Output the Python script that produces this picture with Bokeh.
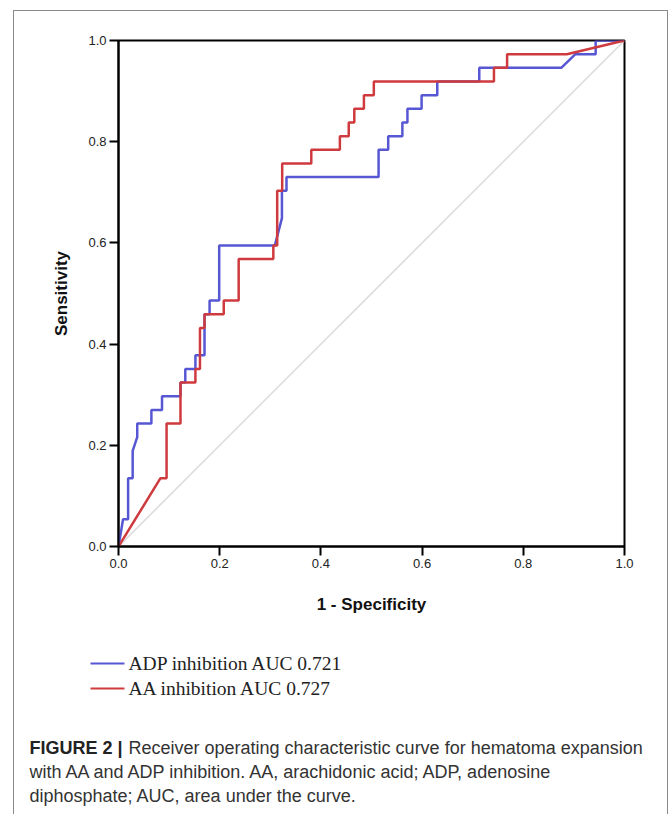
from bokeh.plotting import figure
from bokeh.layouts import column
from bokeh.models import Range1d, FixedTicker, NumeralTickFormatter
from bokeh.core.properties import value
from bokeh.embed import file_html
from bokeh.resources import INLINE

# ---- data ----
adp_fpr = [0, 0.009, 0.019, 0.019, 0.028, 0.028, 0.037, 0.037, 0.065, 0.065, 0.086, 0.086,
           0.1225, 0.1225, 0.132, 0.132, 0.152, 0.152, 0.170, 0.170, 0.180, 0.180, 0.199, 0.199,
           0.309, 0.323, 0.323, 0.332, 0.332, 0.514, 0.514, 0.533, 0.533, 0.561, 0.561, 0.571,
           0.571, 0.599, 0.599, 0.630, 0.630, 0.713, 0.713, 0.875, 0.903, 0.943, 0.943, 1.0]
adp_tpr = [0, 0.054, 0.054, 0.135, 0.135, 0.189, 0.216, 0.243, 0.243, 0.270, 0.270, 0.297,
           0.297, 0.324, 0.324, 0.351, 0.351, 0.378, 0.378, 0.459, 0.459, 0.486, 0.486, 0.595,
           0.595, 0.649, 0.703, 0.703, 0.730, 0.730, 0.784, 0.784, 0.811, 0.811, 0.838, 0.838,
           0.865, 0.865, 0.892, 0.892, 0.919, 0.919, 0.946, 0.946, 0.973, 0.973, 1.0, 1.0]

aa_fpr = [0, 0.083, 0.095, 0.095, 0.1225, 0.1225, 0.152, 0.152, 0.161, 0.161, 0.170, 0.170,
          0.208, 0.208, 0.2375, 0.2375, 0.306, 0.306, 0.3136, 0.3136, 0.3235, 0.3235, 0.381,
          0.381, 0.4375, 0.4375, 0.455, 0.455, 0.466, 0.466, 0.485, 0.485, 0.5046, 0.5046,
          0.742, 0.742, 0.768, 0.768, 0.886, 1.0]
aa_tpr = [0, 0.135, 0.135, 0.243, 0.243, 0.324, 0.324, 0.351, 0.351, 0.432, 0.432, 0.459,
          0.459, 0.486, 0.486, 0.568, 0.568, 0.595, 0.595, 0.703, 0.703, 0.757, 0.757, 0.784,
          0.784, 0.811, 0.811, 0.838, 0.838, 0.865, 0.865, 0.892, 0.892, 0.919, 0.919, 0.946,
          0.946, 0.973, 0.973, 1.0]

ref_x = [0, 1]
ref_y = [0, 1]

ticks = [0, 0.2, 0.4, 0.6, 0.8, 1.0]
legend_labels = ["ADP inhibition AUC 0.721", "AA inhibition AUC 0.727"]
caption_bold = "FIGURE 2 |"
caption_lines = ["Receiver operating characteristic curve for hematoma expansion",
                 "with AA and ADP inhibition. AA, arachidonic acid; ADP, adenosine",
                 "diphosphate; AUC, area under the curve."]

BLUE = "#5757d4"
RED = "#cf3a3e"

# ---- geometry (page pixels) ----
OX, OY = 14, 11          # top-left of the grey panel outline
RIGHT = 667
SPLIT = 630              # page y where the chart part ends and legend/caption part begins
PAGE_H = 814
W = RIGHT - OX

# ---- ROC chart ----
H1 = SPLIT - OY
p = figure(width=W, height=H1, x_range=Range1d(0, 1), y_range=Range1d(0, 1),
           output_backend="svg", toolbar_location=None,
           min_border_left=118 - OX, min_border_right=RIGHT - 624,
           min_border_top=40 - OY, min_border_bottom=SPLIT - 546)
p.frame_align = False
p.xgrid.visible = False
p.ygrid.visible = False
p.background_fill_color = "white"
p.border_fill_color = "white"
p.outline_line_color = "black"
p.outline_line_width = 2

for ax in (p.xaxis[0], p.yaxis[0]):
    ax.ticker = FixedTicker(ticks=ticks)
    ax.formatter = NumeralTickFormatter(format="0.0")
    ax.axis_line_width = 2
    ax.axis_line_color = "black"
    ax.major_tick_line_width = 2
    ax.major_tick_line_color = "black"
    ax.major_tick_out = 9
    ax.major_tick_in = 0
    ax.minor_tick_out = 0
    ax.minor_tick_in = 0
    ax.major_label_text_font = "Liberation Sans"
    ax.major_label_text_font_size = "13px"
    ax.major_label_text_color = "#222222"
    ax.major_label_standoff = 3
    ax.axis_label_text_font = "Liberation Sans"
    ax.axis_label_text_font_style = "bold"
    ax.axis_label_text_font_size = "17px"
    ax.axis_label_text_color = "#111111"

p.xaxis.axis_label = "1 - Specificity"
p.yaxis.axis_label = "Sensitivity"
p.xaxis.axis_label_standoff = 24
p.yaxis.axis_label_standoff = 14

p.line(ref_x, ref_y, line_color="#d9d9d9", line_width=1.5)
p.line(adp_fpr, adp_tpr, line_color=BLUE, line_width=2.5)
p.line(aa_fpr, aa_tpr, line_color=RED, line_width=2.5)

# ---- legend + caption panel (coordinates = page pixels) ----
H2 = PAGE_H - SPLIT
q = figure(width=W, height=H2, x_range=Range1d(OX, RIGHT), y_range=Range1d(PAGE_H, SPLIT),
           output_backend="svg", toolbar_location=None,
           min_border_left=0, min_border_right=0, min_border_top=0, min_border_bottom=0)
q.frame_align = False
q.axis.visible = False
q.xgrid.visible = False
q.ygrid.visible = False
q.outline_line_color = None
q.background_fill_color = "white"
q.border_fill_color = "white"

legend_rows = [663, 688]
for lab, col, yy in zip(legend_labels, [BLUE, RED], legend_rows):
    q.line([90, 124], [yy, yy], line_color=col, line_width=2)
q.text(x=[128] * 2, y=legend_rows, text=legend_labels, text_font=value("Liberation Serif"),
       text_font_size="19.5px", text_color="#222222", text_baseline="middle", text_align="left")

cap_rows = [747, 771, 795]
q.text(x=[29], y=[cap_rows[0]], text=[caption_bold], text_font=value("Liberation Sans"),
       text_font_style="bold", text_font_size="18px", text_color="#222222",
       text_baseline="middle", text_align="left")
q.text(x=[128, 29, 29], y=cap_rows, text=caption_lines, text_font=value("Liberation Sans"),
       text_font_size="18px", text_color="#333333", text_baseline="middle", text_align="left")

layout = column(p, q, spacing=0, margin=(OY, 669 - RIGHT, 0, OX))
layout.styles = {"outline": "1px solid #8a8a8a"}

open("out.html", "w").write(file_html(layout, INLINE))
